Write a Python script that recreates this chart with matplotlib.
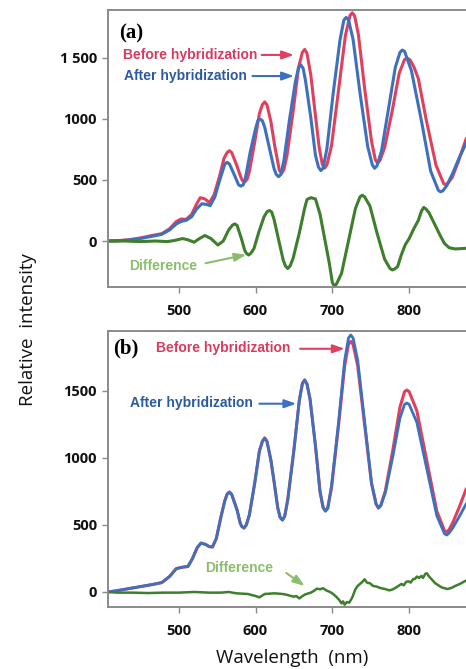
import matplotlib
matplotlib.use('Agg')
import matplotlib.pyplot as plt

# ---- panel (a) data ----
wl_a_before = [408, 420, 435, 450, 465, 478, 488, 497, 503, 510, 517, 523, 528, 534, 540,
               546, 553, 559, 563, 566, 569, 576, 581, 583, 586, 589, 592, 599, 605, 609,
               612, 615, 620, 625, 631, 634, 637, 641, 649, 656, 661, 664, 667, 672, 677,
               683, 687, 690, 693, 699, 708, 717, 723, 726, 729, 734, 742, 751, 756, 759,
               762, 768, 778, 787, 794, 797, 801, 806, 812, 822, 835, 845, 848, 851, 856,
               864, 874]
int_a_before = [0, 2, 10, 25, 45, 60, 100, 160, 180, 178, 220, 300, 355, 345, 315,
                377, 527, 678, 725, 740, 725, 612, 521, 495, 484, 505, 570, 812, 1044, 1118,
                1140, 1114, 980, 780, 580, 555, 585, 703, 1062, 1422, 1546, 1570, 1538, 1360, 1083,
                760, 628, 597, 625, 783, 1233, 1684, 1848, 1870, 1845, 1690, 1253, 817, 665, 637,
                660, 763, 1068, 1374, 1487, 1500, 1485, 1430, 1330, 1000, 620, 470, 460, 478, 520,
                650, 835]

wl_a_after = [408, 420, 435, 450, 465, 478, 488, 497, 503, 510, 517, 523, 530, 536, 541,
              547, 553, 558, 560, 563, 566, 572, 578, 581, 584, 587, 593, 600, 603, 606,
              609, 612, 618, 624, 627, 630, 633, 637, 644, 652, 656, 659, 662, 665, 672,
              678, 682, 685, 688, 693, 701, 710, 715, 718, 721, 727, 736, 746, 752, 755,
              758, 764, 773, 782, 788, 791, 794, 803, 816, 828, 838, 841, 844, 849, 857,
              865, 874]
int_a_after = [0, 2, 8, 20, 38, 55, 90, 140, 160, 170, 200, 260, 305, 300, 290,
               360, 490, 590, 630, 645, 632, 548, 460, 450, 460, 520, 725, 920, 985, 1000,
               985, 931, 764, 596, 545, 527, 545, 661, 985, 1309, 1420, 1443, 1415, 1317, 1010,
               703, 605, 577, 597, 760, 1205, 1649, 1810, 1832, 1815, 1652, 1214, 776, 625, 596,
               615, 737, 1080, 1424, 1545, 1565, 1555, 1395, 984, 573, 415, 403, 412, 455, 560,
               680, 800]

wl_a_diff = [408, 430, 450, 470, 485, 495, 505, 512, 520, 527, 534, 542, 551, 558, 565,
             570, 573, 576, 582, 586, 588, 591, 594, 598, 604, 611, 615, 618, 621, 624,
             630, 636, 639, 642, 645, 649, 657, 664, 667, 672, 678, 684, 690, 696, 700,
             703, 706, 712, 721, 730, 736, 739, 742, 749, 758, 768, 775, 778, 781, 785,
             790, 795, 800, 806, 812, 816, 819, 822, 826, 833, 840, 846, 852, 860, 874]
int_a_diff = [0, 0, -5, 0, -5, 5, 20, 10, -10, 20, 45, 20, -33, 0, 90,
              130, 140, 128, 12, -78, -100, -115, -100, -62, 67, 197, 240, 250, 238, 180,
              12, -155, -205, -225, -205, -140, 65, 270, 340, 355, 345, 220, 20, -180, -340,
              -375, -345, -265, 0, 265, 362, 375, 362, 286, 69, -148, -225, -237, -230, -210,
              -110, -30, 20, 100, 170, 245, 275, 262, 230, 140, 50, -20, -55, -65, -60]

# ---- panel (b) data ----
wl_b = [408, 420, 435, 450, 465, 478, 488, 497, 505, 512, 518, 524, 529, 535, 540,
        544, 549, 555, 560, 563, 566, 569, 576, 580, 582, 585, 588, 592, 599, 605,
        609, 612, 615, 620, 624, 629, 632, 635, 638, 642, 650, 657, 661, 664, 667,
        671, 678, 684, 688, 691, 694, 699, 708, 716, 721, 724, 727, 733, 742, 751,
        757, 760, 763, 769, 779, 788, 794, 797, 800, 810, 823, 836, 846, 849, 852,
        857, 865, 874]
int_b_before = [0, 10, 25, 40, 55, 70, 115, 175, 185, 190, 250, 330, 365, 355, 338,
                336, 400, 560, 680, 730, 746, 728, 612, 516, 490, 477, 500, 575, 813, 1051,
                1125, 1149, 1122, 984, 830, 626, 557, 537, 565, 690, 1060, 1429, 1555, 1582, 1552,
                1439, 1093, 747, 630, 604, 625, 779, 1237, 1685, 1848, 1870, 1848, 1688, 1249, 809,
                655, 627, 645, 755, 1067, 1379, 1495, 1507, 1495, 1352, 978, 603, 458, 448, 465,
                520, 630, 765]
int_b_after = [0, 10, 25, 40, 55, 70, 115, 175, 185, 190, 250, 330, 365, 355, 338,
               336, 400, 560, 680, 730, 746, 728, 612, 516, 490, 477, 500, 575, 813, 1051,
               1125, 1149, 1122, 984, 830, 626, 557, 537, 565, 690, 1060, 1429, 1555, 1582, 1552,
               1439, 1093, 747, 630, 604, 625, 796, 1261, 1726, 1895, 1918, 1895, 1730, 1273, 815,
               657, 627, 643, 741, 1019, 1298, 1400, 1410, 1400, 1266, 918, 569, 435, 425, 440,
               480, 560, 655]

wl_b_diff = [408, 420, 440, 460, 480, 500, 520, 540, 555, 565, 575, 590, 600, 605, 612,
             625, 635, 640, 645, 650, 653, 657, 660, 664, 668, 672, 676, 680, 684, 688,
             692, 697, 701, 705, 709, 712, 714, 716, 719, 722, 726, 730, 733, 736, 739,
             742, 745, 749, 753, 758, 762, 766, 770, 774, 778, 782, 786, 790, 793, 796,
             799, 802, 805, 808, 810, 813, 816, 818, 821, 823, 826, 830, 834, 838, 842,
             846, 850, 855, 860, 866, 874]
int_b_diff = [0, -5, -5, -8, -5, -5, 0, -5, -5, 0, -10, -15, -30, -40, -15,
              -10, -15, -20, -28, -35, -30, -48, -35, -20, -12, -5, 8, 25, 20, 28,
              12, 0, -15, -35, -60, -85, -70, -95, -75, -80, -40, 20, 45, 60, 75,
              95, 70, 65, 45, 40, 30, 25, 20, 12, 18, 30, 45, 60, 50, 75,
              80, 70, 95, 100, 115, 105, 120, 105, 135, 140, 115, 90, 65, 50, 35,
              28, 22, 30, 45, 60, 85]

x_ticks = [500, 600, 700, 800]
y_ticks = [0, 500, 1000, 1500]
y_tick_labels_a = ['0', '500', '1000', '1 500']
y_tick_labels_b = ['0', '500', '1000', '1500']

RED = '#e0405e'
BLUE = '#3d70bd'
GREEN = '#3d7f2c'
RED_TXT = '#d93a5f'
BLUE_TXT = '#2c5a9f'
GREEN_TXT = '#8cbd6c'
SPINE = '#8a8a8a'

plt.rcParams['font.family'] = ['Open Sans', 'DejaVu Sans']

fig = plt.figure(figsize=(4.66, 6.69), dpi=100)
ax_a = fig.add_axes([0.2318, 0.571, 0.7682, 0.414])
ax_b = fig.add_axes([0.2318, 0.0927, 0.7682, 0.4126])


def style_axis(ax, ylim, ylabels):
    ax.set_xlim(408, 874)
    ax.set_ylim(*ylim)
    ax.set_xticks(x_ticks)
    ax.set_yticks(y_ticks)
    ax.set_yticklabels(ylabels)
    for side in ['left', 'bottom', 'top']:
        ax.spines[side].set_color(SPINE)
        ax.spines[side].set_linewidth(1.4)
    ax.spines['right'].set_visible(False)
    ax.tick_params(axis='both', colors=SPINE, length=4, width=1.0, labelcolor='#111111',
                   labelsize=10.5)
    ax.tick_params(axis='x', pad=8)
    ax.tick_params(axis='y', pad=4)
    for lbl in ax.get_xticklabels() + ax.get_yticklabels():
        lbl.set_fontweight('bold')


def arrow(ax, start, end, color):
    ax.annotate('', xy=end, xytext=start,
                arrowprops=dict(arrowstyle='-|>,head_length=0.7,head_width=0.25',
                                color=color, lw=1.5, shrinkA=0, shrinkB=0))


LABEL_SIZE = 10

# panel (a)
ax_a.plot(wl_a_before, int_a_before, color=RED, lw=2.2)
ax_a.plot(wl_a_after, int_a_after, color=BLUE, lw=2.2)
ax_a.plot(wl_a_diff, int_a_diff, color=GREEN, lw=2.2)
style_axis(ax_a, (-377, 1893), y_tick_labels_a)

ax_a.text(422, 1700, '(a)', family='Liberation Serif', fontweight='bold', fontsize=15,
          va='center', ha='left')
ax_a.text(427, 1525, 'Before hybridization', color=RED_TXT, fontweight='bold',
          family='Liberation Sans', fontsize=LABEL_SIZE, va='center')
arrow(ax_a, (608, 1525), (650, 1525), RED)
ax_a.text(429, 1352, 'After hybridization', color=BLUE_TXT, fontweight='bold',
          family='Liberation Sans', fontsize=LABEL_SIZE, va='center')
arrow(ax_a, (596, 1352), (650, 1352), BLUE)
ax_a.text(436, -205, 'Difference', color=GREEN_TXT, fontweight='bold',
          family='Liberation Sans', fontsize=LABEL_SIZE, va='center')
arrow(ax_a, (535, -182), (588, -112), GREEN_TXT)

# panel (b)
ax_b.plot(wl_b, int_b_before, color=RED, lw=2.2)
ax_b.plot(wl_b, int_b_after, color=BLUE, lw=2.0)
ax_b.plot(wl_b_diff, int_b_diff, color=GREEN, lw=1.8)
style_axis(ax_b, (-112, 1948), y_tick_labels_b)

ax_b.text(415, 1815, '(b)', family='Liberation Serif', fontweight='bold', fontsize=15,
          va='center', ha='left')
ax_b.text(470, 1821, 'Before hybridization', color=RED_TXT, fontweight='bold',
          family='Liberation Sans', fontsize=LABEL_SIZE, va='center')
arrow(ax_b, (658, 1815), (716, 1815), RED)
ax_b.text(436, 1410, 'After hybridization', color=BLUE_TXT, fontweight='bold',
          family='Liberation Sans', fontsize=LABEL_SIZE, va='center')
arrow(ax_b, (605, 1405), (653, 1405), BLUE)
ax_b.text(535, 179, 'Difference', color=GREEN_TXT, fontweight='bold',
          family='Liberation Sans', fontsize=LABEL_SIZE, va='center')
arrow(ax_b, (640, 142), (664, 45), GREEN_TXT)

fig.text(28 / 466, 1 - 330 / 669, 'Relative  intensity', rotation=90, ha='center',
         va='center', fontsize=13.5, color='#111111')
fig.text(292 / 466, 1 - 658 / 669, 'Wavelength  (nm)', ha='center', va='center',
         fontsize=13.5, color='#111111')

fig.savefig('out.png', dpi=100, facecolor='white')
